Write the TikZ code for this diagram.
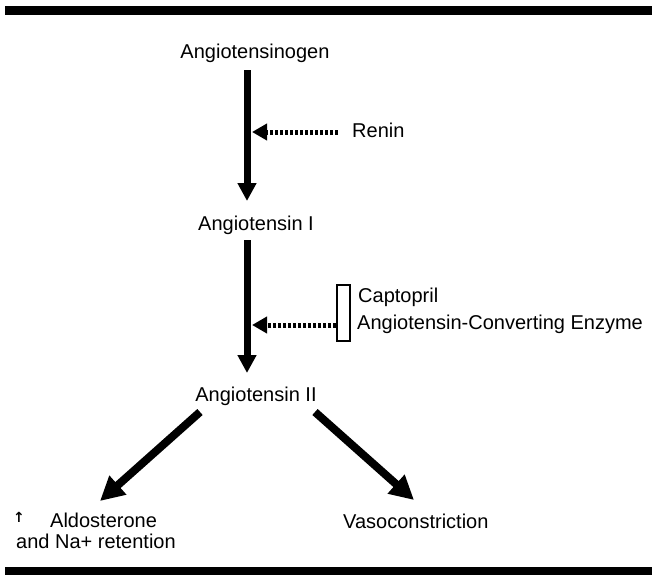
\documentclass[tikz,border=0pt]{standalone}
\usepackage{fontspec}
\setmainfont{Liberation Sans}
\newfontfamily\symfont{DejaVu Sans}
\usetikzlibrary{arrows.meta}
\begin{document}
\begin{tikzpicture}[x=1pt,y=-1pt,
  lbl/.style={inner sep=0pt, font=\fontsize{20}{19}\selectfont},
  mainarrow/.style={line width=7pt, -{Triangle[length=18pt,width=18pt]}},
  diagarrow/.style={line width=8pt, -{Triangle[length=24pt,width=24pt]}},
  dasharrow/.style={line width=5pt, dash pattern=on 3pt off 2pt, -{Triangle[length=15pt,width=16pt]}},
  bar/.style={fill=black, draw=none}
]
\useasboundingbox (0,0) rectangle (657,576);
% rules
\fill[bar] (5,6) rectangle (652,15);
\fill[bar] (5,567) rectangle (652,575);
% nodes
\node[lbl, anchor=base] (ag) at (255,58) {Angiotensinogen};
\node[lbl, anchor=base] (a1) at (256,230) {Angiotensin I};
\node[lbl, anchor=base] (a2) at (256,401) {Angiotensin II};
\node[lbl, anchor=base west] (renin) at (352,137) {Renin};
\node[lbl, anchor=base west] (capto) at (358,302) {Captopril};
\node[lbl, anchor=base west] (ace) at (357,329) {Angiotensin-Converting Enzyme};
\node[draw, line width=1.2pt, minimum width=13pt, minimum height=56pt, inner sep=0pt] (box) at (343.5,313) {};
\node[lbl, anchor=base west] (aldo) at (50,527) {Aldosterone};
\node[lbl, anchor=base west] (na) at (16,548) {and Na+ retention};
\node[inner sep=0pt, anchor=base west, font=\symfont\fontsize{14}{14}\selectfont\bfseries] (up) at (13,522) {↑};
\node[lbl, anchor=base west] (vaso) at (343,528) {Vasoconstriction};
% arrow end points
\coordinate (s1) at (247,70);
\coordinate (t1) at (247,201);
\coordinate (s2) at (247,240);
\coordinate (t2) at (247,373);
\coordinate (rs) at (338,132);
\coordinate (rt) at (252,132);
\coordinate (cs) at (box.west |- 0,325);
\coordinate (ct) at (252,325);
\coordinate (ls) at (200,412);
\coordinate (lt) at (100,501);
\coordinate (rs2) at (315,412);
\coordinate (rt2) at (414,500);
% connectors
\draw[mainarrow] (s1) -- (t1);
\draw[mainarrow] (s2) -- (t2);
\draw[dasharrow] (rs) -- (rt);
\draw[dasharrow] (cs) -- (ct);
\draw[diagarrow] (ls) -- (lt);
\draw[diagarrow] (rs2) -- (rt2);
\end{tikzpicture}
\end{document}
